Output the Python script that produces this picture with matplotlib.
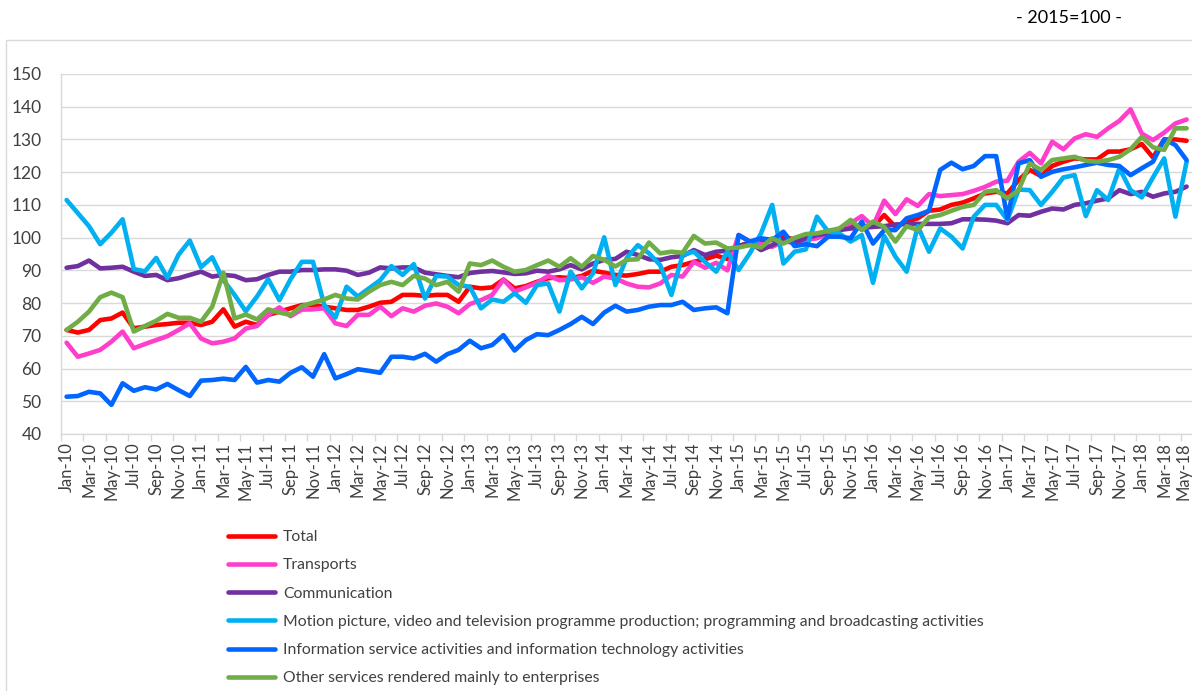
import matplotlib
matplotlib.use('Agg')
import matplotlib.pyplot as plt
import pandas as pd
from matplotlib.patches import Rectangle

# monthly index, 2015=100, Jan-10 .. May-18
months = pd.date_range('2010-01-01', '2018-05-01', freq='MS')
month_labels = [d.strftime('%b-%y') for d in months]

total = [71.8, 71, 71.8, 74.8, 75.3, 77.1, 72.3, 72.8, 73.3, 73.6, 74, 74, 73.3, 74.3, 78.1, 72.8, 74.3,
         73.3, 76.4, 77.4, 78.4, 79.4, 79.4, 78.9, 78.4, 77.9, 77.9, 78.9, 80.1, 80.4, 82.5, 82.5, 82.2,
         82.5, 82.5, 80.4, 85, 84.5, 84.8, 87.2, 84.5, 85.2, 86.5, 87.6, 87.9, 87.6, 88.3, 89.9, 89.3, 88.6,
         88.4, 88.9, 89.6, 89.6, 91.1, 91.6, 92.6, 93.4, 94.5, 93.5, 97.4, 98.5, 99.1, 99.3, 100.1, 99.5,
         100.8, 101.1, 101.8, 102.3, 103.8, 103.3, 103.3, 106.9, 103.3, 104.9, 105.9, 108.2, 108.6, 110, 110.7, 112, 113.5,
         114, 113.5, 117.6, 120.7, 118.8, 121.9, 123.2, 124.2, 123.9, 123.9, 126.3, 126.3, 127, 128.6, 124.5, 130, 130, 129.6]

transports = [67.9, 63.6, 64.6, 65.7, 68.2, 71.3, 66.2, 67.5, 68.7, 69.9, 71.8, 73.8, 69.2, 67.7, 68.2, 69.2, 72.2,
              73, 76.4, 78.7, 76, 78, 78.1, 78.4, 73.8, 73, 76.4, 76.4, 78.9, 76, 78.4, 77.4, 79.2,
              79.9, 78.9, 76.9, 79.7, 80.9, 82.5, 87.2, 83.5, 84.8, 86.2, 88.3, 87, 87.2, 87.9, 86.2, 88.1, 87.5,
              86, 85, 84.8, 86, 88.6, 88.1, 92.6, 90.8, 92.3, 90, 100.8, 98.8, 98, 97.2, 98.8, 98.5,
              99.3, 99.8, 101.3, 102.8, 104.4, 106.6, 103.5, 111.3, 107.2, 111.7, 109.7, 113.3, 112.7, 113, 113.3, 114.3, 115.5,
              117.1, 117.4, 123.2, 125.9, 122.7, 129.3, 127, 130.3, 131.6, 130.8, 133.4, 135.7, 139.2, 131.8, 129.8, 132.1, 134.9, 136.1]

communication = [90.8, 91.3, 93, 90.6, 90.8, 91.1, 89.6, 88.3, 88.6, 87, 87.6, 88.6, 89.6, 88.1, 88.6, 88.3, 87,
                 87.3, 88.6, 89.6, 89.6, 90.1, 90.1, 90.3, 90.3, 89.9, 88.6, 89.3, 90.9, 90.6, 90.9, 90.9, 89.3,
                 88.8, 88.3, 87.9, 89.2, 89.6, 89.8, 89.4, 88.9, 89.1, 89.9, 89.6, 90.3, 91.6, 90.3, 92.1, 93.2, 93.5,
                 95.7, 94.7, 93.4, 93.2, 94, 94.4, 96.2, 94.7, 95.7, 96, 97.4, 98.5, 96.2, 97.7, 99.3, 98.5,
                 99.8, 100.8, 101.3, 102.3, 102.8, 103, 103.3, 103.5, 104, 104.2, 104.2, 104.2, 104.2, 104.4, 105.6, 105.6, 105.5,
                 105.2, 104.4, 106.9, 106.7, 107.9, 108.9, 108.6, 110, 110.5, 111.3, 112, 114.5, 113.3, 114, 112.5, 113.5, 114, 115.6]

motion_picture = [111.5, 107.5, 103.5, 98, 101.5, 105.6, 90.4, 89.7, 93.8, 87.7, 94.8, 99.1, 91, 94, 87, 82.5, 77.5,
                  82, 87.3, 80.9, 87.3, 92.6, 92.6, 79.4, 75.6, 85, 82, 84.5, 87, 91.3, 88.6, 91.9, 81.4,
                  88.3, 88.1, 85.5, 85, 78.4, 81.1, 80.4, 83, 80.1, 85.5, 86, 77.4, 89.6, 84.5, 89.1, 100.1, 85.5,
                  93.7, 97.7, 95.2, 91.6, 82.5, 94.7, 95.7, 92.6, 89.6, 95.7, 90.1, 95.2, 101.3, 110, 92.1, 95.7,
                  96.4, 106.4, 101.8, 101.3, 98.8, 100.8, 86.2, 100.5, 94.2, 89.6, 103.5, 95.7, 102.8, 100.3, 96.7, 106.4, 110,
                  110, 105.4, 114.7, 114.5, 110, 114, 118.4, 119.1, 106.6, 114.5, 111.5, 121.2, 114.5, 112.3, 118.4, 124.2, 106.4, 123.2]

info_services = [51.4, 51.6, 52.9, 52.4, 48.9, 55.5, 53.2, 54.3, 53.6, 55.3, 53.4, 51.6, 56.3, 56.5, 56.9, 56.5, 60.5,
                 55.7, 56.5, 56, 58.7, 60.4, 57.5, 64.4, 57, 58.3, 59.8, 59.3, 58.7, 63.6, 63.6, 63.1, 64.5,
                 62.1, 64.4, 65.7, 68.5, 66.2, 67.2, 70.2, 65.5, 68.7, 70.5, 70.2, 71.8, 73.6, 75.8, 73.6, 77.1, 79.2,
                 77.4, 77.9, 78.9, 79.4, 79.4, 80.4, 77.9, 78.4, 78.7, 76.9, 100.8, 98.8, 99.8, 99.3, 101.8, 97.4,
                 98, 97.4, 100.3, 100.3, 99.8, 104.9, 98.2, 102.3, 102.3, 105.9, 106.9, 108.2, 120.7, 122.9, 120.9, 121.9, 124.9,
                 124.9, 105.9, 122.7, 123.7, 118.6, 120.1, 120.9, 121.5, 122.2, 122.9, 122.2, 121.9, 119.1, 121.2, 123.2, 130, 128.3, 123.7]

other_services = [71.8, 74.3, 77.4, 81.8, 83.2, 81.8, 71.3, 73, 74.6, 76.7, 75.5, 75.5, 74.3, 78.9, 89.3, 75.3, 76.5,
                  75, 78.1, 77.1, 76.4, 79.1, 80.1, 81.1, 82.5, 81.4, 81.1, 83.5, 85.5, 86.5, 85.5, 88.3, 87.5,
                  85.5, 86.5, 83.5, 92.1, 91.6, 93, 91.1, 89.6, 90.1, 91.6, 93, 91.1, 93.7, 91.1, 94.4, 93.2, 91.2,
                  93.2, 93.4, 98.5, 95.2, 95.7, 95.4, 100.5, 98.2, 98.5, 96.7, 97, 97.7, 97, 99.8, 98.2, 99.9,
                  101.1, 101.3, 102.1, 102.8, 105.4, 102.3, 104.9, 103.3, 98.8, 103.5, 102.3, 106.2, 106.9, 108.2, 109.4, 110, 114,
                  114.5, 112, 114.5, 122.7, 120.7, 123.7, 124.2, 124.7, 123.5, 123.2, 123.7, 124.7, 127, 130.8, 127.6, 126.8, 133.4, 133.4]

series_names = ['Total', 'Transports', 'Communication',
                'Motion picture, video and television programme production; programming and broadcasting activities',
                'Information service activities and information technology activities',
                'Other services rendered mainly to enterprises']
series_colors = ['#ff0000', '#ff3fcc', '#7030a0', '#00b0f0', '#0066ff', '#70ad47']

plt.rcParams['font.family'] = ['Lato', 'DejaVu Sans']

W, H = 1192, 691
fig = plt.figure(figsize=(W / 100, H / 100), dpi=100)

# chart-area border like the spreadsheet export
fig.patches.append(Rectangle((6 / W, -0.01), 1.0, 1 - 40 / H + 0.01, transform=fig.transFigure,
                             fill=False, edgecolor='#d9d9d9', lw=1.0))

ax = fig.add_axes([61 / W, 1 - 434 / H, 1131.2 / W, 360 / H])

x = list(range(len(months)))
data = [total, transports, communication, motion_picture, info_services, other_services]
for vals, name, col in zip(data, series_names, series_colors):
    ax.plot(x, vals, color=col, lw=3.3, label=name, solid_joinstyle='round', solid_capstyle='round')

ax.set_xlim(-0.5, len(months) - 0.5)
ax.set_ylim(40, 150)
ax.set_yticks(range(40, 151, 10))
ax.yaxis.grid(True, color='#d9d9d9', lw=1.0)
ax.set_axisbelow(True)

tick_text = month_labels[::2]
ax.set_xticks(x[::2])
# the last label would touch the figure edge, so it is drawn separately a bit inside
ax.set_xticklabels(tick_text[:-1] + [''], rotation=90, fontsize=12, color='#404040')
ax.annotate(tick_text[-1], xy=(x[-1], 0), xycoords=('data', 'axes fraction'),
            xytext=(-2.5, -6), textcoords='offset points', rotation=90,
            ha='center', va='top', fontsize=12, color='#404040', annotation_clip=False)
ax.set_xticks([i - 0.5 for i in range(0, len(months) + 1, 2)], minor=True)
ax.tick_params(axis='x', which='major', length=0, pad=6)
ax.tick_params(axis='x', which='minor', length=5, color='#d9d9d9', width=1)
ax.tick_params(axis='y', length=0, pad=14, labelsize=12.5, labelcolor='#404040')

for s in ['top', 'right']:
    ax.spines[s].set_visible(False)
for s in ['left', 'bottom']:
    ax.spines[s].set_color('#d9d9d9')
    ax.spines[s].set_linewidth(1.0)

fig.text(1069 / W, 1 - 18 / H, '- 2015=100 -', ha='center', va='center', fontsize=13, color='black')

fig.legend(loc='upper left', bbox_to_anchor=(228 / W, 1 - 530 / H), frameon=False,
           fontsize=11.3, handlelength=3.0, handletextpad=0.5, labelspacing=0.91,
           borderpad=0, borderaxespad=0, labelcolor='#404040')

fig.savefig('out.png', dpi=100)
